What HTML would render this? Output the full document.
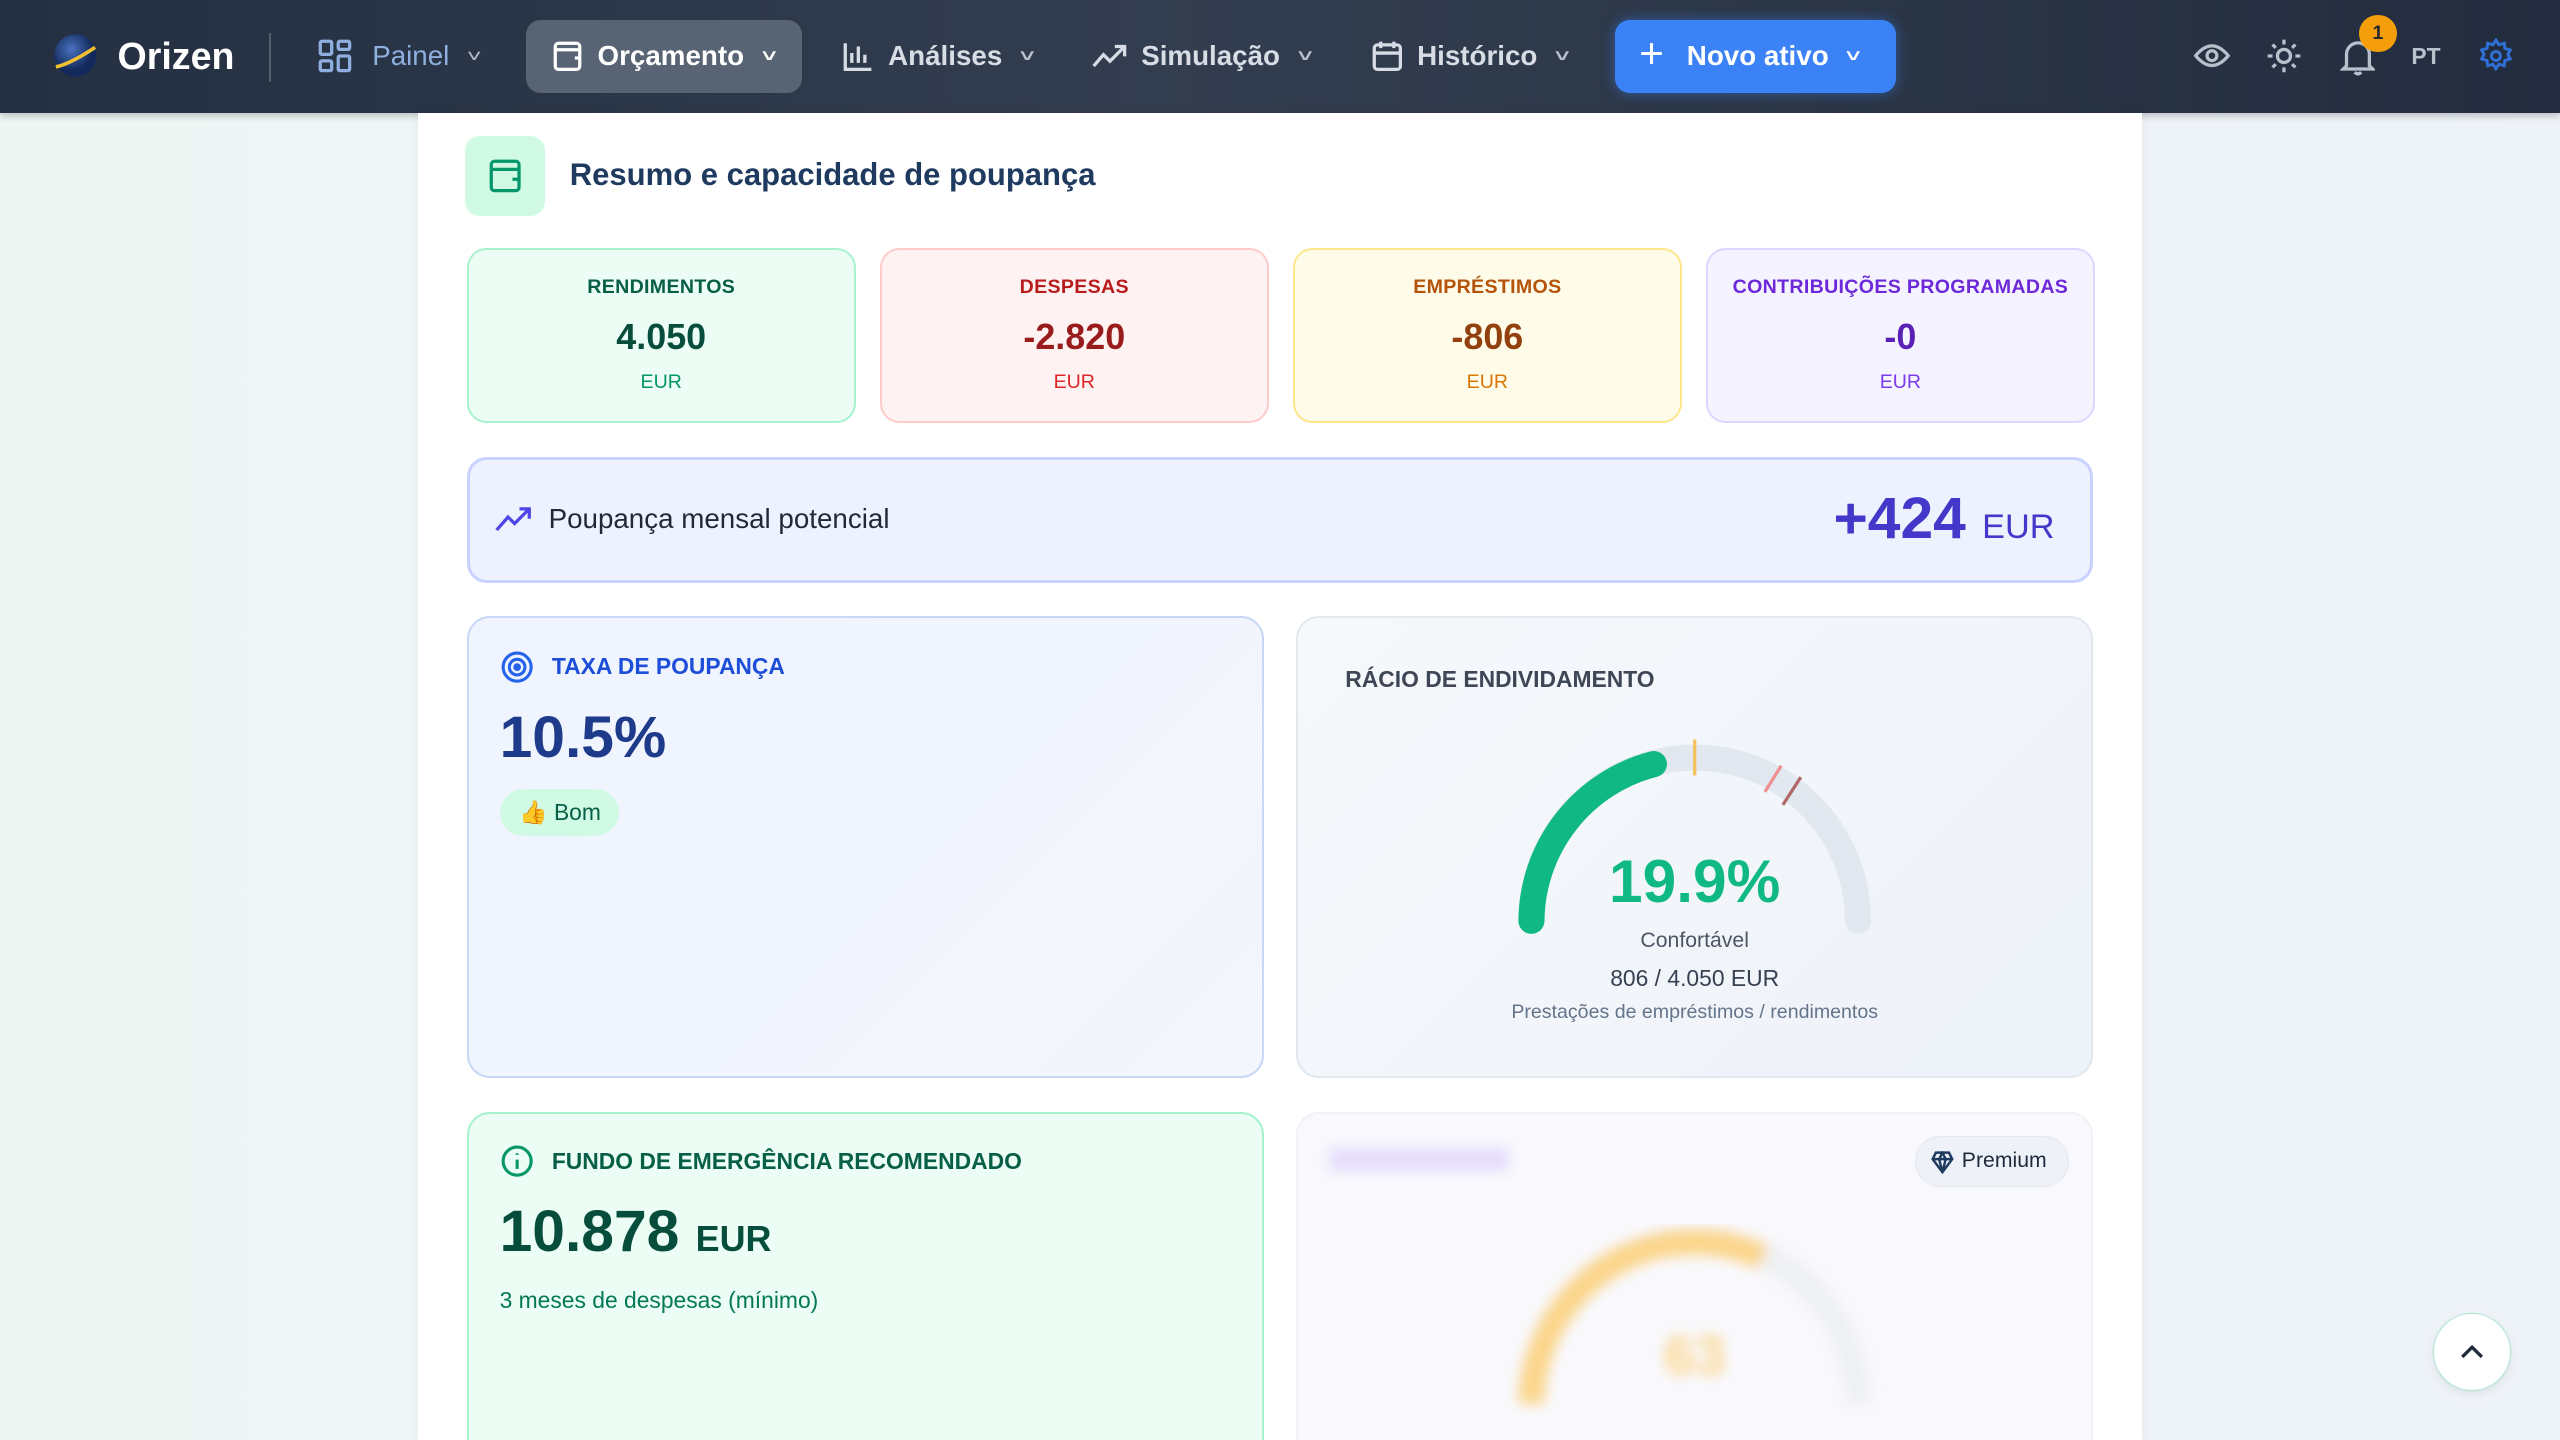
<!DOCTYPE html>
<html><head><meta charset="utf-8">
<style>
*{box-sizing:border-box;margin:0;padding:0}
html,body{width:2560px;height:1440px;overflow:hidden;background:#eef3f6}
body{font-family:"Liberation Sans","DejaVu Sans",sans-serif}
#w{position:absolute;left:0;top:0;width:1568px;height:882px;zoom:1.632653;background:linear-gradient(90deg,#eef6f4 0%,#f1f5f9 50%,#eef3f8 100%);overflow:hidden}
.abs{position:absolute}
#nav{left:0;top:0;width:1568px;height:69px;background:linear-gradient(90deg,#243042 0%,#323d4f 45%,#2c3748 70%,#222c3e 100%);box-shadow:0 2px 4px rgba(0,0,0,.2)}
.ni{position:absolute;top:0;height:69px;display:flex;align-items:center;color:#d8dde5;font-size:17px;font-weight:bold;gap:8px}
.chev{font-size:11px;color:#b8c0cc;margin-left:4px;transform:scaleX(1.4)}
#panel{left:256px;top:69px;width:1056px;height:813px;background:#fff;box-shadow:0 0 8px rgba(0,0,0,.05)}
.sc{position:absolute;top:152px;width:238px;height:107px;border-radius:12px;border:1.5px solid;text-align:center}
.sc .l{margin-top:16px;font-size:12px;font-weight:bold;letter-spacing:.2px}
.sc .v{margin-top:10px;font-size:22px;font-weight:bold}
.sc .u{margin-top:8px;font-size:12px}
.card{position:absolute;border-radius:14px;border:1.5px solid}
</style></head><body><div id="w">
<div id="nav" class="abs">
  <svg class="abs" style="left:31px;top:19px" width="30" height="30" viewBox="0 0 30 30"><defs><radialGradient id="g1" cx="40%" cy="35%"><stop offset="0" stop-color="#4a72c0"/><stop offset="1" stop-color="#13295c"/></radialGradient></defs><circle cx="15" cy="15" r="13" fill="url(#g1)"/><path d="M3 22 Q12 20 27 10" stroke="#f0c030" stroke-width="2.2" fill="none"/></svg>
  <div class="ni" style="left:72px;color:#fff;font-size:23px">Orizen</div>
  <div class="abs" style="left:165px;top:20px;width:1px;height:30px;background:#55606f"></div>
  <div class="ni" style="left:194px;color:#8fb0de;font-weight:normal">
    <svg width="22" height="22" viewBox="0 0 22 22" fill="none" stroke="#8fb0de" stroke-width="2"><rect x="2" y="2" width="7" height="8" rx="1"/><rect x="13" y="2" width="7" height="5" rx="1"/><rect x="2" y="14" width="7" height="6" rx="1"/><rect x="13" y="11" width="7" height="9" rx="1"/></svg>
    <span style="margin-left:4px">Painel</span><span class="chev">˅</span></div>
  <div class="abs" style="left:322px;top:12px;width:169px;height:45px;border-radius:9px;background:#586374"></div>
  <div class="ni" style="left:338px;color:#fff">
    <svg width="20" height="20" viewBox="0 0 20 20" fill="none" stroke="#fff" stroke-width="2"><rect x="2" y="2" width="15" height="16" rx="2"/><path d="M2 6h15M14 11h3"/></svg>
    <span>Orçamento</span><span class="chev" style="color:#fff">˅</span></div>
  <div class="ni" style="left:516px">
    <svg width="20" height="20" viewBox="0 0 20 20" fill="none" stroke="#d8dde5" stroke-width="2"><path d="M2 2v16h16M6 14V8M10 14V4M14 14V9"/></svg>
    <span>Análises</span><span class="chev">˅</span></div>
  <div class="ni" style="left:669px">
    <svg width="22" height="20" viewBox="0 0 22 20" fill="none" stroke="#d8dde5" stroke-width="2"><path d="M1 16l6-7 4 4 9-9M14 4h6v6"/></svg>
    <span>Simulação</span><span class="chev">˅</span></div>
  <div class="ni" style="left:840px">
    <svg width="20" height="20" viewBox="0 0 20 20" fill="none" stroke="#d8dde5" stroke-width="2"><rect x="2" y="3" width="16" height="15" rx="2"/><path d="M2 8h16M6 1v4M14 1v4"/></svg>
    <span>Histórico</span><span class="chev">˅</span></div>
  <div class="abs" style="left:989px;top:12px;width:172px;height:45px;border-radius:9px;background:#3b82f6;box-shadow:0 0 8px rgba(59,130,246,.5)"></div>
  <div class="ni" style="left:1004px;color:#fff">
    <span style="font-size:26px;font-weight:normal;margin-top:-3px">+</span>
    <span style="margin-left:6px">Novo ativo</span><span class="chev" style="color:#fff">˅</span></div>
  <svg class="abs" style="left:1344px;top:25px" width="22" height="18" viewBox="0 0 22 18" fill="none" stroke="#b8c0cc" stroke-width="2"><path d="M1 9Q11-3 21 9Q11 21 1 9z"/><circle cx="11" cy="9" r="3"/></svg>
  <svg class="abs" style="left:1388px;top:23px" width="22" height="22" viewBox="0 0 22 22" fill="none" stroke="#b8c0cc" stroke-width="2"><circle cx="11" cy="11" r="4"/><path d="M11 1v3M11 18v3M1 11h3M18 11h3M4 4l2 2M16 16l2 2M4 18l2-2M16 6l2-2"/></svg>
  <svg class="abs" style="left:1433px;top:23px" width="22" height="24" viewBox="0 0 22 24" fill="none" stroke="#b8c0cc" stroke-width="2"><path d="M4 17V10a7 7 0 0 1 14 0v7l2 2H2z M9 21q2 2 4 0"/></svg>
  <div class="abs" style="left:1445px;top:9px;width:23px;height:23px;border-radius:50%;background:#f59e0b;color:#2a2a2a;font-size:12px;font-weight:bold;text-align:center;line-height:23px">1</div>
  <div class="ni" style="left:1477px;color:#b8c0cc;font-size:14px">PT</div>
  <svg class="abs" style="left:1518px;top:23px" width="22" height="22" viewBox="0 0 24 24" fill="none" stroke="#2f6fd6" stroke-width="2"><circle cx="12" cy="12" r="3"/><path d="M12 1.5l2 3 3.5-1 .5 3.5 3.5 1-1.5 3 1.5 3-3.5 1-.5 3.5-3.5-1-2 3-2-3-3.5 1-.5-3.5-3.5-1 1.5-3-1.5-3 3.5-1 .5-3.5 3.5 1z"/></svg>
</div>

<div id="panel" class="abs"></div>
<div class="abs" style="left:285px;top:83px;width:49px;height:49px;border-radius:9px;background:#d1fae5"></div>
<svg class="abs" style="left:299px;top:97px" width="22" height="22" viewBox="0 0 22 22" fill="none" stroke="#059669" stroke-width="2"><rect x="2" y="2" width="17" height="18" rx="2"/><path d="M2 7h17M15 13h4"/></svg>
<div class="abs" style="left:349px;top:96px;font-size:19px;font-weight:bold;color:#1e3a5f">Resumo e capacidade de poupança</div>

<div class="sc" style="left:286px;background:#ecfdf5;border-color:#a7f3d0"><div class="l" style="color:#065f46">RENDIMENTOS</div><div class="v" style="color:#064e3b">4.050</div><div class="u" style="color:#059669">EUR</div></div>
<div class="sc" style="left:539px;background:#fef2f2;border-color:#fecaca"><div class="l" style="color:#b91c1c">DESPESAS</div><div class="v" style="color:#991b1b">-2.820</div><div class="u" style="color:#dc2626">EUR</div></div>
<div class="sc" style="left:792px;background:#fefbe8;border-color:#fde68a"><div class="l" style="color:#b45309">EMPRÉSTIMOS</div><div class="v" style="color:#92400e">-806</div><div class="u" style="color:#d97706">EUR</div></div>
<div class="sc" style="left:1045px;background:#f5f3ff;border-color:#ddd6fe"><div class="l" style="color:#6d28d9">CONTRIBUIÇÕES PROGRAMADAS</div><div class="v" style="color:#5b21b6">-0</div><div class="u" style="color:#7c3aed">EUR</div></div>

<div class="card" style="left:286px;top:280px;width:996px;height:77px;background:#eef2ff;border:2px solid #c7d2fe;border-radius:12px"></div>
<svg class="abs" style="left:303px;top:309px" width="24" height="18" viewBox="0 0 24 18" fill="none" stroke="#4f46e5" stroke-width="2"><path d="M1 16l7-8 4 4 9-9M15 3h6v6"/></svg>
<div class="abs" style="left:336px;top:308px;font-size:17px;color:#1f2937">Poupança mensal potencial</div>
<div class="abs" style="left:1123px;top:297px;font-size:36px;font-weight:bold;color:#4338ca">+424 <span style="font-size:21px;font-weight:normal">EUR</span></div>

<div class="card" style="left:286px;top:377px;width:488px;height:283px;background:linear-gradient(135deg,#eff4ff,#f3f6fc);border-color:#c7d7f5"></div>
<svg class="abs" style="left:306px;top:398px" width="21" height="21" viewBox="0 0 22 22" fill="none" stroke="#2563eb" stroke-width="2"><circle cx="11" cy="11" r="9"/><circle cx="11" cy="11" r="5"/><circle cx="11" cy="11" r="1.5" fill="#2563eb"/></svg>
<div class="abs" style="left:338px;top:400px;font-size:14px;font-weight:bold;color:#1d4ed8">TAXA DE POUPANÇA</div>
<div class="abs" style="left:306px;top:431px;font-size:36px;font-weight:bold;color:#1e3a8a">10.5%</div>
<div class="abs" style="left:306px;top:483px;width:73px;height:29px;border-radius:15px;background:#d1fae5;font-size:14px;color:#065f46;line-height:29px;padding-left:12px">👍 Bom</div>

<div class="card" style="left:794px;top:377px;width:488px;height:283px;background:linear-gradient(135deg,#f6f8fb,#eef3fa);border-color:#e2e8f0"></div>
<div class="abs" style="left:824px;top:408px;font-size:14px;font-weight:bold;color:#3f4756">RÁCIO DE ENDIVIDAMENTO</div>
<svg class="abs" style="left:0;top:0" width="1568" height="882">
  <path d="M938 564 A100 100 0 0 1 1138 564" stroke="#e2e8f0" stroke-width="16" fill="none" stroke-linecap="round"/>
  <path d="M938 564 A100 100 0 0 1 1013 468" stroke="#10b981" stroke-width="16" fill="none" stroke-linecap="round"/>
  <line x1="1038" y1="453" x2="1038" y2="475" stroke="#f5c060" stroke-width="2"/>
  <line x1="1091" y1="469" x2="1081" y2="485" stroke="#f09090" stroke-width="2"/>
  <line x1="1103" y1="476" x2="1092" y2="493" stroke="#b06868" stroke-width="2"/>
</svg>
<div class="abs" style="left:938px;width:200px;top:518px;text-align:center;font-size:37px;font-weight:bold;color:#10b981">19.9%</div>
<div class="abs" style="left:888px;width:300px;top:569px;text-align:center;font-size:13px;color:#4b5563">Confortável</div>
<div class="abs" style="left:888px;width:300px;top:591px;text-align:center;font-size:14px;color:#374151">806 / 4.050 EUR</div>
<div class="abs" style="left:838px;width:400px;top:613px;text-align:center;font-size:12px;color:#64748b">Prestações de empréstimos / rendimentos</div>

<div class="card" style="left:286px;top:681px;width:488px;height:230px;background:#ecfdf5;border-color:#a7f3d0"></div>
<svg class="abs" style="left:306px;top:701px" width="21" height="21" viewBox="0 0 22 22" fill="none" stroke="#059669" stroke-width="2"><circle cx="11" cy="11" r="9"/><path d="M11 10v6M11 6v1"/></svg>
<div class="abs" style="left:338px;top:703px;font-size:14px;font-weight:bold;color:#065f46">FUNDO DE EMERGÊNCIA RECOMENDADO</div>
<div class="abs" style="left:306px;top:734px;font-size:36px;font-weight:bold;color:#064e3b">10.878 <span style="font-size:22px">EUR</span></div>
<div class="abs" style="left:306px;top:788px;font-size:14px;color:#047857">3 meses de despesas (mínimo)</div>

<div class="card" style="left:794px;top:681px;width:488px;height:230px;background:#f9f9fd;border-color:#f1f1f6"></div>
<div class="abs" style="left:814px;top:703px;width:110px;height:14px;background:#e4dcfb;filter:blur(4px)"></div>
<svg class="abs" style="left:0;top:0" width="1568" height="882">
  <defs><filter id="b"><feGaussianBlur stdDeviation="4"/></filter></defs>
  <g filter="url(#b)">
  <path d="M938 860 A100 100 0 0 1 1138 860" stroke="#eef0f3" stroke-width="16" fill="none"/>
  <path d="M938 860 A100 100 0 0 1 1080 770" stroke="#fbd58a" stroke-width="16" fill="none"/>
  <text x="1038" y="842" text-anchor="middle" font-size="34" font-weight="bold" fill="#fbd58a" font-family="Liberation Sans">63</text>
  </g>
</svg>
<div class="abs" style="left:1173px;top:696px;width:94px;height:31px;border-radius:16px;background:#eef2f8;border:1px solid #e2e8f0;font-size:13px;color:#1e293b;line-height:29px;padding-left:28px">Premium</div>
<svg class="abs" style="left:1183px;top:705px" width="14" height="14" viewBox="0 0 14 14" fill="none" stroke="#1e3a5f" stroke-width="1.5"><path d="M3 1h8l2 4-6 8-6-8z M1 5h12M7 13L5 5l2-4 2 4z"/></svg>

<div class="abs" style="left:1490px;top:804px;width:48px;height:48px;border-radius:50%;background:#fff;border:1px solid #a7e6cf;box-shadow:0 2px 6px rgba(0,0,0,.08)"></div>
<svg class="abs" style="left:1506px;top:820px" width="16" height="16" viewBox="0 0 16 16" fill="none" stroke="#1f2937" stroke-width="2"><path d="M2 11l6-6 6 6"/></svg>
</div></body></html>
